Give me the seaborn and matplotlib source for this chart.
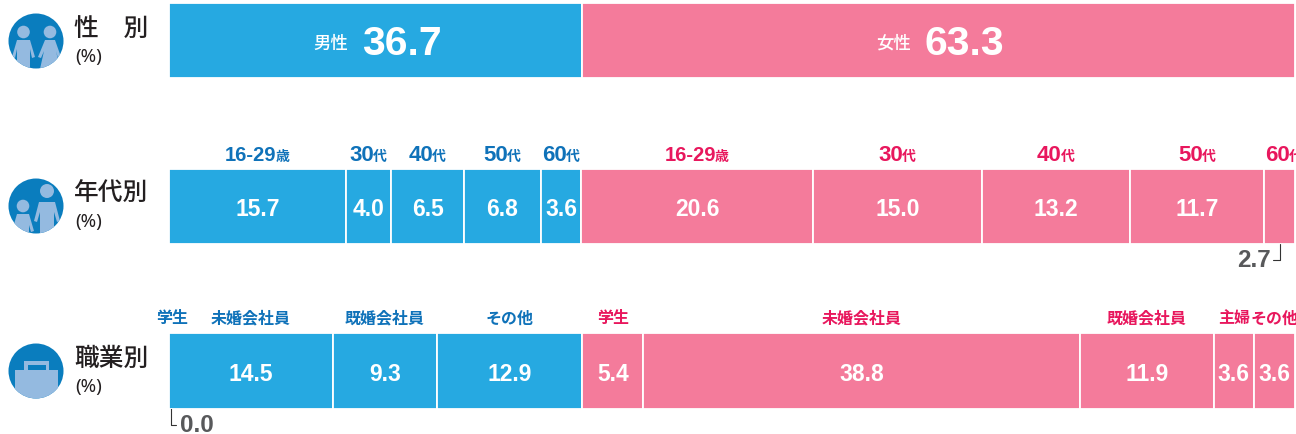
import matplotlib
matplotlib.use("Agg")
import matplotlib.pyplot as plt
from matplotlib.patches import Circle, Polygon, Rectangle
import seaborn as sns

sns.set_theme(style="white")
plt.rcParams['font.family'] = ['Liberation Sans', 'Noto Sans CJK JP', 'DejaVu Sans']

JP = ['Noto Sans CJK JP', 'DejaVu Sans']
NUM = ['Liberation Sans', 'DejaVu Sans']

BLUE = '#26A9E1'
PINK = '#F47B9B'
BLUE_TXT = '#0F72B9'
PINK_TXT = '#E8175D'
GREY = '#58595B'
ICON_DARK = '#0A7DBE'
ICON_LIGHT = '#94BAE0'

W, H = 1296, 435

# data
gender_names = ['男性', '女性']
gender_values = [36.7, 63.3]

age_names = ['16-29歳', '30代', '40代', '50代', '60代', '16-29歳', '30代', '40代', '50代', '60代']
age_values = [15.7, 4.0, 6.5, 6.8, 3.6, 20.6, 15.0, 13.2, 11.7, 2.7]
# printed 11.7 is drawn a little wider in the original, widths as measured
age_widths = [15.7, 4.0, 6.5, 6.8, 3.6, 20.6, 15.0, 13.2, 11.9, 2.7]
age_male_count = 5

job_names = ['学生', '未婚会社員', '既婚会社員', 'その他', '学生', '未婚会社員', '既婚会社員', '主婦', 'その他']
job_values = [0.0, 14.5, 9.3, 12.9, 5.4, 38.8, 11.9, 3.6, 3.6]
job_male_count = 4

row_titles = ['性\u3000別', '年代別', '職業別']

fig = plt.figure(figsize=(W / 100, H / 100), dpi=100)

# background axes in pixels for icons and row titles
bg = fig.add_axes([0, 0, 1, 1], zorder=0)
bg.set_xlim(0, W)
bg.set_ylim(H, 0)
bg.axis('off')


def make_row(top, bottom):
    # 0.6 px extra so the white bar edges do not eat into the bar height
    top, bottom = top - 0.6, bottom + 0.6
    ax = fig.add_axes([169.4 / W, 1 - bottom / H, (1294.6 - 169.4) / W, (bottom - top) / H], zorder=1)
    ax.patch.set_alpha(0)
    return ax


def draw_bars(ax, names, widths, male_count):
    left = 0
    mids = []
    for i, (name, w) in enumerate(zip(names, widths)):
        sns.barplot(x=[w], y=['row'], orient='h', left=left, width=1, saturation=1,
                    color=BLUE if i < male_count else PINK,
                    edgecolor='white', linewidth=1.3, ax=ax)
        mids.append(left + w / 2)
        left += w
    ax.set_xlim(0, 100)
    ax.set_ylim(0.5, -0.5)
    ax.axis('off')
    return mids


def header(ax, x, y_px, name, color):
    # number in bold latin, unit in a smaller japanese face, centred together
    num = name.rstrip('歳代')
    unit = name[len(num):]
    px = ax.transData.transform((x, 0))[0]
    size = 16 if len(num) == 2 else 14.5
    t1 = bg.text(px, y_px, num, family=NUM, fontsize=size, fontweight='bold', color=color,
                 ha='left', va='baseline')
    t2 = bg.text(px, y_px, unit, family=JP, fontsize=10, fontweight='bold', color=color,
                 ha='left', va='baseline')
    r = fig.canvas.get_renderer()
    w1 = t1.get_window_extent(r).width
    w2 = t2.get_window_extent(r).width
    t1.set_x(px - (w1 + w2) / 2)
    t2.set_x(px - (w1 + w2) / 2 + w1 - 1)


# sex
ax1 = make_row(5, 78.5)
mids = draw_bars(ax1, gender_names, gender_values, 1)
for mid, name, v in zip(mids, gender_names, gender_values):
    ax1.text(mid - 4.0, 0.03, name, family=JP, fontsize=12.5, color='white', ha='center', va='center',
             fontweight='medium')
    ax1.text(mid - 1.25, 0.03, f'{v:.1f}', family=NUM, fontsize=29.5, fontweight='bold', color='white',
             ha='left', va='center')

# age
ax2 = make_row(171, 244.5)
mids = draw_bars(ax2, age_names, age_widths, age_male_count)
for i, (mid, name, v) in enumerate(zip(mids, age_names, age_values)):
    c = BLUE_TXT if i < age_male_count else PINK_TXT
    nudge = 0.45 if i == len(age_names) - 1 else 0
    header(ax2, mid + nudge, 161, name, c)
    if v >= 3:
        ax2.text(mid, 0.03, f'{v:.1f}', family=NUM, fontsize=16.5, fontweight='bold', color='white',
                 ha='center', va='center')
bg.plot([1280, 1280, 1273], [245, 261, 261], color='#333333', lw=0.8)
bg.text(1254, 261, f'{age_values[-1]:.1f}', family=NUM, fontsize=17.5, fontweight='bold', color=GREY,
        ha='center', va='center')

# job
ax3 = make_row(335, 409)
mids = draw_bars(ax3, job_names, job_values, job_male_count)
for i, (mid, name, v) in enumerate(zip(mids, job_names, job_values)):
    c = BLUE_TXT if i < job_male_count else PINK_TXT
    nudge = 0.2 if i == 0 else 0
    ax3.annotate(name, xy=(mid + nudge, 1), xycoords=('data', 'axes fraction'), xytext=(0, 16),
                 textcoords='offset pixels', family=JP, fontsize=11.5, fontweight='bold', color=c,
                 ha='center', va='center', annotation_clip=False)
    if v > 0:
        ax3.text(mid, 0.03, f'{v:.1f}', family=NUM, fontsize=16.5, fontweight='bold', color='white',
                 ha='center', va='center')
bg.plot([170.5, 170.5, 176], [409, 426, 426], color='#333333', lw=0.8)
bg.text(180, 426, f'{job_values[0]:.1f}', family=NUM, fontsize=17.5, fontweight='bold', color=GREY,
        ha='left', va='center')

# row titles
for title, y in zip(row_titles, [29, 194, 359]):
    bg.text(74, y, title, family=JP, fontsize=17.8, fontweight='medium', color='#231F20', ha='left', va='center')
    bg.text(75, y + 28, '(%)', family=['Noto Sans', 'DejaVu Sans'], fontsize=13.5, color='#231F20', ha='left', va='center')


# icons
def icon(cy, shapes):
    c = Circle((36, cy), 27.5, color=ICON_DARK, lw=0)
    bg.add_patch(c)
    for s in shapes:
        bg.add_patch(s)
        s.set_clip_path(c)


light = dict(color=ICON_LIGHT, lw=0)
icon(42, [
    Circle((23.5, 33), 6.3, **light),
    Polygon([(17, 41), (30, 41), (35, 58), (32, 59), (30, 50), (30, 70), (17, 70), (17, 50), (15, 59), (12, 58)], **light),
    Circle((50, 33), 6.3, **light),
    Polygon([(45, 41), (55, 41), (61, 58), (58, 59), (56, 52), (60, 70), (40, 70), (44, 52), (41, 59), (38, 58)], **light),
])
icon(207, [
    Circle((23, 207), 6.3, **light),
    Polygon([(17, 215), (29, 215), (34, 232), (31, 233), (29, 226), (29, 236), (17, 236), (17, 226), (15, 233), (12, 232)], **light),
    Circle((47, 192), 7, **light),
    Polygon([(39, 203), (55, 203), (60, 222), (57, 223), (54, 213), (54, 236), (40, 236), (40, 213), (37, 223), (34, 222)], **light),
])
icon(372, [
    Rectangle((24, 362), 25, 10, **light),
    Rectangle((27.5, 365.5), 18, 7, color=ICON_DARK, lw=0),
    Rectangle((15, 371), 43, 30, **light),
])

plt.savefig('out.png', dpi=100)
